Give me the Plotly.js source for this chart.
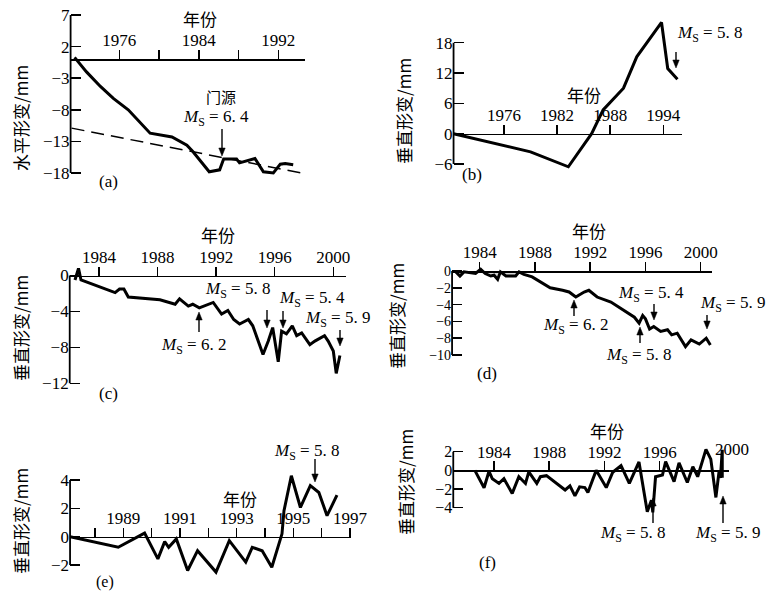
<!DOCTYPE html>
<html><head><meta charset="utf-8">
<script src="https://cdn.plot.ly/plotly-3.0.1.min.js"></script>
<style>html,body{margin:0;padding:0;background:#fff}</style>
</head><body><div id="chart" style="width:768px;height:593px"></div>
<script>
// ---------- data ----------
// (a) horizontal deformation
const aYears = [1971.5, 1972.7, 1974.1, 1975.4, 1976.9, 1979.1, 1981.3, 1982.8, 1983.4, 1985.05, 1986.1, 1986.5, 1987.8, 1988.1, 1989.65, 1990.5, 1991.5, 1992.2, 1992.7, 1993.5];
const aValues = [0.3, -2.0, -4.3, -6.2, -8.0, -11.7, -12.3, -13.6, -14.6, -17.8, -17.5, -15.8, -15.8, -16.4, -15.7, -17.8, -18.0, -16.6, -16.5, -16.7];
const aTrendYears = [1971.2, 1994.35];
const aTrendValues = [-10.9, -18.0];
const aXTicks = [1976, 1984, 1992];
const aXTickText = ['1976', '1984', '1992'];
const aXMinor = [1980, 1988];
const aYTicks = [7, 2, -3, -8, -13, -18];
const aYTickText = ['7', '2', '−3', '−8', '−13', '−18'];

// (b)
const bYears = [1970.3, 1979.0, 1983.27, 1985.9, 1987.2, 1989.5, 1991.0, 1992.2, 1993.8, 1994.5, 1995.6];
const bValues = [0, -3.6, -6.55, 0, 4.7, 9.0, 15.2, 18.2, 22.0, 12.9, 10.75];
const bXTicks = [1976, 1982, 1988, 1994];
const bXTickText = ['1976', '1982', '1988', '1994'];
const bYTicks = [18, 12, 6, 0, -6];
const bYTickText = ['18', '12', '6', '0', '−6'];

// (c)
const cYears = [1982.36, 1982.6, 1982.77, 1984.75, 1985.1, 1985.4, 1985.7, 1986.0, 1986.8, 1988.16, 1989.2, 1989.5, 1990.1, 1990.4, 1990.85, 1991.2, 1991.8, 1992.37, 1992.8, 1993.2, 1993.6, 1994.2, 1994.5, 1995.2, 1995.56, 1995.86, 1996.24, 1996.47, 1996.8, 1997.2, 1997.5, 1997.84, 1998.4, 1998.74, 1999.4, 1999.65, 2000.0, 2000.2, 2000.45];
const cValues = [-0.5, 0.8, -0.5, -1.7, -1.9, -1.5, -1.5, -2.4, -2.5, -2.7, -3.2, -2.6, -3.4, -3.2, -3.6, -3.4, -3.0, -4.3, -3.9, -4.9, -5.4, -4.9, -5.6, -8.8, -7.3, -5.8, -9.6, -6.2, -6.5, -5.6, -6.7, -6.4, -7.7, -7.3, -6.7, -7.3, -8.4, -10.9, -8.9];
const cXTicks = [1984, 1988, 1992, 1996, 2000];
const cXTickText = ['1984', '1988', '1992', '1996', '2000'];
const cYTicks = [0, -4, -8, -12];
const cYTickText = ['0', '−4', '−8', '−12'];

// (d)
const dYears = [1982.2, 1982.57, 1982.86, 1983.7, 1984.07, 1984.4, 1984.8, 1985.04, 1985.3, 1985.5, 1985.9, 1986.6, 1986.85, 1987.2, 1987.8, 1988.4, 1989.1, 1990.0, 1990.47, 1990.96, 1991.56, 1991.9, 1992.5, 1993.5, 1994.45, 1995.2, 1995.54, 1995.8, 1996.0, 1996.3, 1996.6, 1997.1, 1997.6, 1997.9, 1998.3, 1998.9, 1999.3, 1999.9, 2000.4, 2000.7];
const dValues = [0, -0.6, -0.1, -0.3, 0.2, -0.3, -0.6, -0.5, -1.0, -0.1, -0.6, -0.6, -0.1, -0.4, -0.7, -1.3, -2.0, -2.3, -2.5, -3.1, -2.5, -2.3, -3.1, -3.7, -4.7, -5.5, -6.2, -5.3, -5.7, -6.9, -6.6, -7.2, -7.0, -7.6, -7.4, -9.0, -8.2, -8.7, -8.0, -8.8];
const dXTicks = [1984, 1988, 1992, 1996, 2000];
const dXTickText = ['1984', '1988', '1992', '1996', '2000'];
const dYTicks = [0, -2, -4, -6, -8, -10];
const dYTickText = ['0', '−2', '−4', '−6', '−8', '−10'];

// (e)
const eYears = [1987.12, 1988.82, 1989.75, 1990.22, 1990.46, 1990.6, 1990.87, 1991.27, 1991.62, 1992.27, 1992.74, 1993.32, 1993.55, 1993.9, 1994.24, 1994.6, 1994.67, 1994.93, 1995.25, 1995.6, 1995.9, 1996.19, 1996.54];
const eValues = [0, -0.75, 0.25, -1.57, -0.35, -0.75, -0.16, -2.39, -0.99, -2.5, -0.28, -1.8, -0.75, -1.0, -2.16, 0.2, 1.83, 4.3, 2.06, 3.6, 3.12, 1.48, 2.93];
const eXTicks = [1989, 1991, 1993, 1995, 1997];
const eXTickText = ['1989', '1991', '1993', '1995', '1997'];
const eXMinor = [1988, 1990, 1992, 1994, 1996];
const eYTicks = [4, 2, 0, -2];
const eYTickText = ['4', '2', '0', '−2'];

// (f)
const fYears = [1982.61, 1983.28, 1983.64, 1983.88, 1984.36, 1984.72, 1985.32, 1985.8, 1986.28, 1986.52, 1987.1, 1987.36, 1987.8, 1988.55, 1989.15, 1989.5, 1989.86, 1990.2, 1990.58, 1990.8, 1991.4, 1992.13, 1992.6, 1993.2, 1993.8, 1994.5, 1995.1, 1995.4, 1995.5, 1995.7, 1996.2, 1996.43, 1997.04, 1997.4, 1998.0, 1998.4, 1998.75, 1999.35, 1999.7, 2000.07, 2000.3, 2000.4, 2000.53, 2000.53];
const fValues = [0, -1.86, -0.1, -0.9, -1.4, -0.9, -2.47, -0.68, -1.4, -0.16, -1.4, -0.68, -0.57, -1.45, -2.1, -1.66, -2.73, -1.77, -1.84, -2.38, 0.0, -1.84, -0.2, 0.5, -1.4, 0.9, -4.43, -3.2, -4.5, -0.68, -0.5, 0.93, -1.2, 0.8, -1.3, 0.4, -0.68, 2.25, 1.2, -2.9, -0.1, -0.8, 2.2, -0.8];
const fXTicks = [1984, 1988, 1992, 1996];
const fXTickText = ['1984', '1988', '1992', '1996'];
const fYTicks = [2, 0, -2, -4];
const fYTickText = ['2', '0', '−2', '−4'];

// ---------- layout helpers ----------
const W = 768, H = 593;
const SERIF = 'Liberation Serif, Times New Roman, serif';
const CJK = 'Noto Sans CJK SC, Noto Sans, sans-serif';
const BLACK = '#000';

// pixel calibration of each panel: two (year, px) pairs, two (value, py) pairs, ranges, y tick font size
const geo = [
  {xa:[1976,119.3], xb:[1992,278.3], xr:[1971.1,1994.7], ya:[7,15], yb:[-18,173], yr:[-19.5,8], yfs:17},
  {xa:[1976,504], xb:[1994,663.3], xr:[1970.3,1996.15], ya:[18,42.7], yb:[-6,164], yr:[-7.5,23.5], yfs:17},
  {xa:[1984,99], xb:[2000,333.3], xr:[1982.0,2000.9], ya:[0,275.5], yb:[-12,383.3], yr:[-12.6,1.6], yfs:17},
  {xa:[1984,479.7], xb:[2000,700.7], xr:[1982.0,2000.85], ya:[0,271], yb:[-10,355], yr:[-10.6,1.2], yfs:14},
  {xa:[1988,95], xb:[1997,350], xr:[1987.12,1997.02], ya:[4,480], yb:[-2,565], yr:[-2.8,4.9], yfs:17},
  {xa:[1984,494], xb:[1996,659.7], xr:[1981.05,2001.0], ya:[2,451.7], yb:[-4,507.7], yr:[-5.2,2.8], yfs:16}
];
const ticks = [
  [aXTicks,aXTickText,aYTicks,aYTickText,aXMinor],
  [bXTicks,bXTickText,bYTicks,bYTickText,null],
  [cXTicks,cXTickText,cYTicks,cYTickText,null],
  [dXTicks,dXTickText,dYTicks,dYTickText,null],
  [eXTicks,eXTickText,eYTicks,eYTickText,eXMinor],
  [fXTicks,fXTickText,fYTicks,fYTickText,null]
];

const layout = {
  width: W, height: H, margin: {l:0, r:0, t:0, b:0},
  paper_bgcolor: '#fff', plot_bgcolor: 'rgba(0,0,0,0)',
  showlegend: false, shapes: [], annotations: []
};

geo.forEach((g, i) => {
  const s = i === 0 ? '' : String(i + 1);
  const sx = (g.xb[1] - g.xa[1]) / (g.xb[0] - g.xa[0]);
  const pxOf = yr => g.xa[1] + (yr - g.xa[0]) * sx;
  const sy = (g.yb[1] - g.ya[1]) / (g.yb[0] - g.ya[0]);
  const pyOf = v => g.ya[1] + (v - g.ya[0]) * sy;
  const [xt, xtt, yt, ytt, xm] = ticks[i];
  const xa = {
    domain: [pxOf(g.xr[0]) / W, pxOf(g.xr[1]) / W], range: g.xr,
    anchor: 'free', position: 1 - pyOf(0) / H, side: 'top',
    showline: true, linecolor: BLACK, linewidth: 1.6,
    ticks: 'outside', ticklen: 9, tickwidth: 1.5, tickcolor: BLACK,
    tickvals: xt, ticktext: xtt, ticklabelstandoff: -3,
    tickfont: {family: SERIF, size: 17, color: BLACK},
    showgrid: false, zeroline: false, fixedrange: true
  };
  if (xm) xa.minor = {tickvals: xm, ticks: 'outside', ticklen: 9, tickwidth: 1.5, tickcolor: BLACK, showgrid: false};
  layout['xaxis' + s] = xa;
  layout['yaxis' + s] = {
    domain: [1 - pyOf(g.yr[0]) / H, 1 - pyOf(g.yr[1]) / H], range: g.yr,
    anchor: 'x' + s, side: 'left', showline: false,
    ticks: 'inside', ticklen: 10, tickwidth: 1.5, tickcolor: BLACK,
    tickvals: yt, ticktext: ytt,
    tickfont: {family: SERIF, size: g.yfs, color: BLACK},
    showgrid: false, zeroline: false, fixedrange: true
  };
  layout.shapes.push({
    type: 'line', layer: 'above', xref: 'x' + s + ' domain', x0: 0, x1: 0,
    yref: 'y' + s, y0: Math.min(...yt), y1: Math.max(...yt),
    line: {color: BLACK, width: 1.8}
  });
});

function lineTrace(x, y, s, extra) {
  return Object.assign({
    type: 'scatter', mode: 'lines', x: x, y: y,
    xaxis: 'x' + s, yaxis: 'y' + s,
    line: {color: BLACK, width: 3}, hoverinfo: 'skip'
  }, extra || {});
}

const traces = [
  lineTrace(aTrendYears, aTrendValues, '', {line: {color: BLACK, width: 1.5, dash: '13px,7px'}}),
  lineTrace(aYears, aValues, ''),
  lineTrace(bYears, bValues, '2'),
  lineTrace(cYears, cValues, '3'),
  lineTrace(dYears.slice(0, 14), dValues.slice(0, 14), '4', {fill: 'tozeroy', fillcolor: 'rgba(0,0,0,0.16)', line: {width: 0}}),
  lineTrace(dYears, dValues, '4'),
  lineTrace(eYears, eValues, '5'),
  lineTrace(fYears, fValues, '6')
];

// ---------- text & arrows (pixel positions) ----------
function txt(px, py, text, font, extra) {
  layout.annotations.push(Object.assign({
    xref: 'paper', yref: 'paper', x: px / W, y: 1 - py / H,
    xanchor: 'center', yanchor: 'middle', showarrow: false,
    text: text, font: font
  }, extra || {}));
}
const P = (px, py) => (px / W).toFixed(5) + ',' + (1 - py / H).toFixed(5);
function arrow(tailX, tailY, tipX, tipY) {
  const dir = tipY > tailY ? 1 : -1;
  const headLen = 8, half = 3.2;
  const baseY = tipY - dir * headLen;
  layout.shapes.push({
    type: 'line', xref: 'paper', yref: 'paper',
    x0: tailX / W, y0: 1 - tailY / H, x1: tipX / W, y1: 1 - baseY / H,
    line: {color: BLACK, width: 1.4}
  });
  layout.shapes.push({
    type: 'path', xref: 'paper', yref: 'paper',
    path: 'M' + P(tipX, tipY) + ' L' + P(tipX - half, baseY) + ' L' + P(tipX + half, baseY) + ' Z',
    fillcolor: BLACK, line: {color: BLACK, width: 0.5}
  });
}
const fSerif = {family: SERIF, size: 17, color: BLACK};
const fLabel = {family: SERIF, size: 17, color: BLACK};
const fYear = {family: CJK, size: 17, color: BLACK};
const fTitle = {family: CJK, size: 17, color: BLACK};
const ms = v => '<i>M</i><sub>S</sub> = ' + v;

// axis titles
const yTitleH = '水平形变/mm', yTitleV = '垂直形变/mm', xTitle = '年份';
txt(20, 118, yTitleH, fTitle, {textangle: -90});
txt(403, 111, yTitleV, fTitle, {textangle: -90});
txt(20, 328, yTitleV, fTitle, {textangle: -90});
txt(396, 316, yTitleV, fTitle, {textangle: -90});
txt(20, 521, yTitleV, fTitle, {textangle: -90});
txt(405, 482, yTitleV, fTitle, {textangle: -90});
txt(200, 19, xTitle, fYear);
txt(584, 95, xTitle, fYear);
txt(218, 235, xTitle, fYear);
txt(589, 230, xTitle, fYear);
txt(240, 498, xTitle, fYear);
txt(607, 430, xTitle, fYear);

// panel labels
txt(108, 182, '(a)', fLabel);
txt(472, 175, '(b)', fLabel);
txt(108, 393, '(c)', fLabel);
txt(487, 373, '(d)', fLabel);
txt(105, 582, '(e)', {family: SERIF, size: 16, color: BLACK});
txt(487, 562, '(f)', fLabel);

// (a)
txt(221, 96, '门源', {family: CJK, size: 15, color: BLACK});
txt(216, 118, ms('6. 4'), fSerif);
arrow(222, 129, 222, 156);
// (b)
txt(709, 34, ms('5. 8'), fSerif);
arrow(676, 52, 676, 68);
// (c)
txt(237, 290, ms('5. 8'), fSerif);
arrow(267, 310, 267, 328);
txt(312, 299, ms('5. 4'), fSerif);
arrow(283, 311, 283, 328);
txt(337, 319, ms('5. 9'), fSerif);
arrow(340, 330, 340, 346);
txt(193, 346, ms('6. 2'), fSerif);
arrow(199, 332, 199, 312);
// (d)
txt(651, 294, ms('5. 4'), fSerif);
arrow(654, 304, 654, 320);
txt(732, 304, ms('5. 9'), fSerif);
arrow(707, 315, 707, 329);
txt(575, 326, ms('6. 2'), fSerif);
arrow(574, 316, 574, 300);
txt(638, 356, ms('5. 8'), fSerif);
arrow(640, 343, 640, 327);
// (e)
txt(306, 452, ms('5. 8'), fSerif);
arrow(315, 459, 315, 482);
// (f)
txt(732, 449, '2000', fSerif);
txt(632, 534, ms('5. 8'), fSerif);
arrow(653, 523, 653, 498);
txt(727, 534, ms('5. 9'), fSerif);
arrow(723, 523, 723, 496);

Plotly.newPlot('chart', traces, layout, {staticPlot: true, displayModeBar: false});
</script>
</body></html>
